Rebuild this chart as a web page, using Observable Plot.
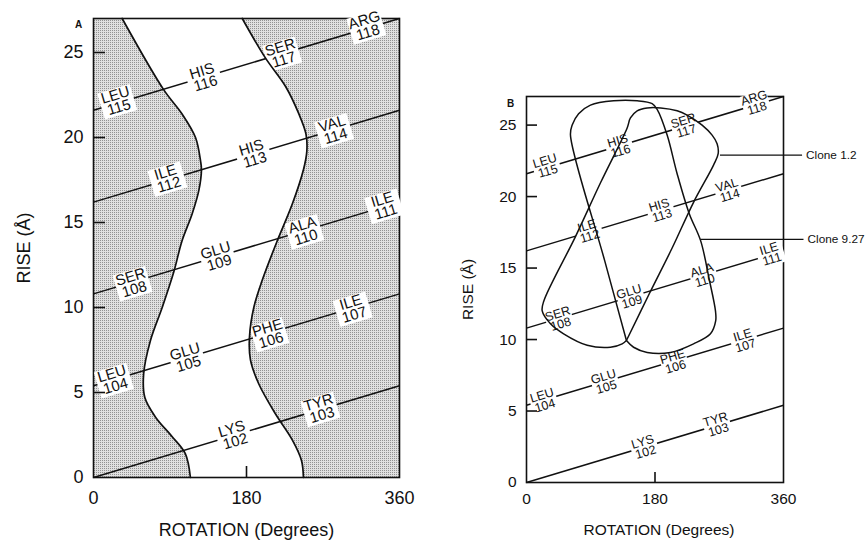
<!DOCTYPE html>
<html><head><meta charset="utf-8">
<script src="https://cdn.jsdelivr.net/npm/d3@7"></script>
<script src="https://cdn.jsdelivr.net/npm/@observablehq/plot@0.6"></script>
<style>
body{margin:0;background:#fff;}
#wrap{position:relative;width:868px;height:548px;}
#a{position:absolute;left:0;top:0;}
#b{position:absolute;left:430px;top:0;}
</style></head><body><div id="wrap"><div id="a"></div><div id="b"></div></div>
<script>
// ---- data ----
const residueNames = ["LYS","TYR","LEU","GLU","PHE","ILE","SER","GLU","ALA","ILE","ILE","HIS","VAL","LEU","HIS","SER","ARG"];
const residueNumbers = [102,103,104,105,106,107,108,109,110,111,112,113,114,115,116,117,118];
const residueRotation = [165,267,24,110,207,305,46,146,248,342,87,188,283,28,130,222,321];
const residueRise = [2.45,4.0,5.7,7.0,8.4,9.9,11.4,12.95,14.45,15.95,17.55,19.0,20.4,22.1,23.5,24.9,26.5];

const helixStartRise = [0, 5.4, 10.8, 16.2, 21.6];
const helixEndRise = [5.4, 10.8, 16.2, 21.6, 27.0];

const yTicks = [0, 5, 10, 15, 20, 25];
const xTicks = [0, 180, 360];

// Panel A: boundaries of the shaded region
const leftBoundaryRot  = [114,108,92.6,73,60.4,59,67,80.8,94.5,104,116,124,127,126,120,104,82.7,33.7];
const leftBoundaryRise = [0,1.4,2.4,3.55,4.7,6.1,8.06,10.0,12.1,13.9,15.5,16.9,18.1,18.6,20.0,21.4,22.8,27.0];
const rightBoundaryRot  = [247,244.7,234,214,194.5,184.7,183.5,188.6,198.5,216,234,247,251,250,241.5,226,202,175];
const rightBoundaryRise = [0,1.0,2.2,3.75,5.5,6.9,8.25,10.0,11.6,13.9,16.1,18.1,19.2,20.2,21.4,23.0,24.7,27.0];

// Panel B: the two clone loops
const clone12Rot  = [140,172,204,234,262,268.5,267,260,246,225,211,188,169,155,145.6,141,104,68.6,24.3,22,33.6,52,85,117.6,134,140];
const clone12Rise = [9.93,13.2,16.4,19.6,22.2,23.0,23.7,24.3,25.0,25.7,26.0,26.2,26.2,26.0,25.5,24.8,21.0,17.2,12.7,12.0,11.1,10.4,9.6,9.46,9.7,9.93];
const clone927Rot  = [140,109.6,61.6,64,73,89.6,122,155,176,183,197,211,228,244,256,264.7,265,257.7,234,201.7,169,150,140];
const clone927Rise = [9.93,15.5,24.3,25.0,25.8,26.4,26.7,26.7,26.5,26.1,24.3,21.6,18.8,16.9,14.2,12.0,11.3,10.4,9.7,9.1,9.1,9.46,9.93];

const cloneNames = ["Clone 1.2", "Clone 9.27"];
const cloneRise = [22.9, 17.0];
const cloneLeaderFrom = [271, 243.7];
const cloneLeaderTo = [386, 388];

// ---- tables ----
const residues = residueNames.map((n, i) => ({name: n, num: residueNumbers[i], rot: residueRotation[i], rise: residueRise[i]}));
const helix = helixStartRise.map((s, i) => ({y1: s, y2: helixEndRise[i]}));
const slope = (helixEndRise[0] - helixStartRise[0]) / 360;
const pts = (xs, ys) => xs.map((x, i) => ({rot: x, rise: ys[i]}));
const leftB = pts(leftBoundaryRot, leftBoundaryRise);
const rightB = pts(rightBoundaryRot, rightBoundaryRise);
const c12 = pts(clone12Rot, clone12Rise);
const c927 = pts(clone927Rot, clone927Rise);
const clones = cloneNames.map((n, i) => ({name: n, rise: cloneRise[i], from: cloneLeaderFrom[i], to: cloneLeaderTo[i]}));

const FONT = "'Liberation Sans', Arial, Helvetica, sans-serif";

function panel(cfg) {
  const pw = cfg.width - cfg.ml - cfg.mr, ph = cfg.height - cfg.mt - cfg.mb;
  const angle = Math.atan2(5.4 / 27 * ph, pw) * 180 / Math.PI;
  const d = cfg.boxHalf;
  const marks = [];
  if (cfg.shade) {
    marks.push(Plot.areaX(leftB, {y: "rise", x1: 0, x2: "rot", fill: "url(#stipple)", curve: "catmull-rom"}));
    marks.push(Plot.areaX(rightB, {y: "rise", x1: "rot", x2: 360, fill: "url(#stipple)", curve: "catmull-rom"}));
  }
  marks.push(Plot.frame({stroke: "#111", strokeWidth: 1.6}));
  marks.push(Plot.link(helix, {x1: 0, x2: 360, y1: "y1", y2: "y2", stroke: "#111", strokeWidth: 1.5}));
  marks.push(Plot.link(residues, {
    x1: r => r.rot - d, y1: r => r.rise - d * slope,
    x2: r => r.rot + d, y2: r => r.rise + d * slope,
    stroke: "white", strokeWidth: cfg.boxThick, strokeLinecap: "butt"
  }));
  if (cfg.shade) {
    marks.push(Plot.line(leftB, {x: "rot", y: "rise", curve: "catmull-rom", stroke: "#111", strokeWidth: 1.7}));
    marks.push(Plot.line(rightB, {x: "rot", y: "rise", curve: "catmull-rom", stroke: "#111", strokeWidth: 1.7}));
  }
  if (cfg.loops) {
    marks.push(Plot.line(c12, {x: "rot", y: "rise", curve: "catmull-rom", stroke: "#111", strokeWidth: 1.5}));
    marks.push(Plot.line(c927, {x: "rot", y: "rise", curve: "catmull-rom", stroke: "#111", strokeWidth: 1.5}));
    marks.push(Plot.link(clones, {x1: "from", x2: "to", y1: "rise", y2: "rise", stroke: "#111", strokeWidth: 1.3}));
    marks.push(Plot.text(clones, {x: "to", y: "rise", text: "name", dx: 4, textAnchor: "start", fontSize: 11.8, fill: "#111"}));
  }
  marks.push(Plot.text(residues, {
    x: "rot", y: "rise", text: r => r.name + "\n" + r.num,
    rotate: -angle, fontSize: cfg.labelSize, lineHeight: 0.86, fill: "#111"
  }));
  marks.push(Plot.tickY(yTicks.filter(t => t > 0), {y: t => t, insetRight: pw - cfg.tick, stroke: "#111", strokeWidth: 1.6}));
  marks.push(Plot.tickX([180], {x: t => t, insetTop: ph - cfg.tick + 1, stroke: "#111", strokeWidth: 1.6}));
  marks.push(Plot.axisY(yTicks, {tickSize: 0, tickPadding: 10, fontSize: cfg.tickSize, label: null, fill: "#111"}));
  marks.push(Plot.axisX(xTicks, {tickSize: 0, tickPadding: cfg.xPad, fontSize: cfg.tickSize, label: null, fill: "#111"}));
  marks.push(Plot.text(["RISE (Å)"], {frameAnchor: "left", rotate: -90, dx: cfg.yTitleDx, textAnchor: "middle", lineAnchor: "middle", fontSize: cfg.titleSize, fill: "#111"}));
  marks.push(Plot.text(["ROTATION (Degrees)"], {frameAnchor: "bottom", dy: cfg.xTitleDy, dx: cfg.xTitleDx, textAnchor: "middle", lineAnchor: "middle", fontSize: cfg.titleSize, fill: "#111"}));
  marks.push(Plot.text([cfg.letter], {frameAnchor: "top-left", dx: cfg.letterDx, dy: cfg.letterDy, textAnchor: "middle", lineAnchor: "middle", fontSize: 10, fontWeight: "bold", fill: "#111"}));

  const svg = Plot.plot({
    width: cfg.width, height: cfg.height,
    marginLeft: cfg.ml, marginRight: cfg.mr, marginTop: cfg.mt, marginBottom: cfg.mb,
    x: {domain: [0, 360], axis: null},
    y: {domain: [0, 27], axis: null},
    style: {fontFamily: FONT, background: "transparent", overflow: "visible"},
    marks
  });
  if (cfg.shade) {
    const defs = document.createElementNS("http://www.w3.org/2000/svg", "defs");
    defs.innerHTML = '<pattern id="stipple" width="2" height="2" patternUnits="userSpaceOnUse"><rect width="2" height="2" fill="#e0e0e0"/><rect width="1" height="1" fill="#929292"/></pattern>';
    svg.insertBefore(defs, svg.firstChild);
  }
  return svg;
}

document.getElementById("a").appendChild(panel({
  width: 430, height: 548, ml: 93, mr: 31, mt: 18, mb: 71,
  shade: true, loops: false, boxHalf: 19, boxThick: 27, labelSize: 15,
  tick: 12, tickSize: 18, xPad: 14, titleSize: 18,
  yTitleDx: -69, xTitleDy: 53, xTitleDx: 0, letter: "A", letterDx: -15, letterDy: 6
}));
document.getElementById("b").appendChild(panel({
  width: 438, height: 548, ml: 96, mr: 85, mt: 96, mb: 66,
  shade: false, loops: true, boxHalf: 18, boxThick: 22, labelSize: 12.5,
  tick: 11, tickSize: 15.5, xPad: 10, titleSize: 15.5,
  yTitleDx: -58, xTitleDy: 48, xTitleDx: 4, letter: "B", letterDx: -16, letterDy: 7
}));
</script></body></html>
